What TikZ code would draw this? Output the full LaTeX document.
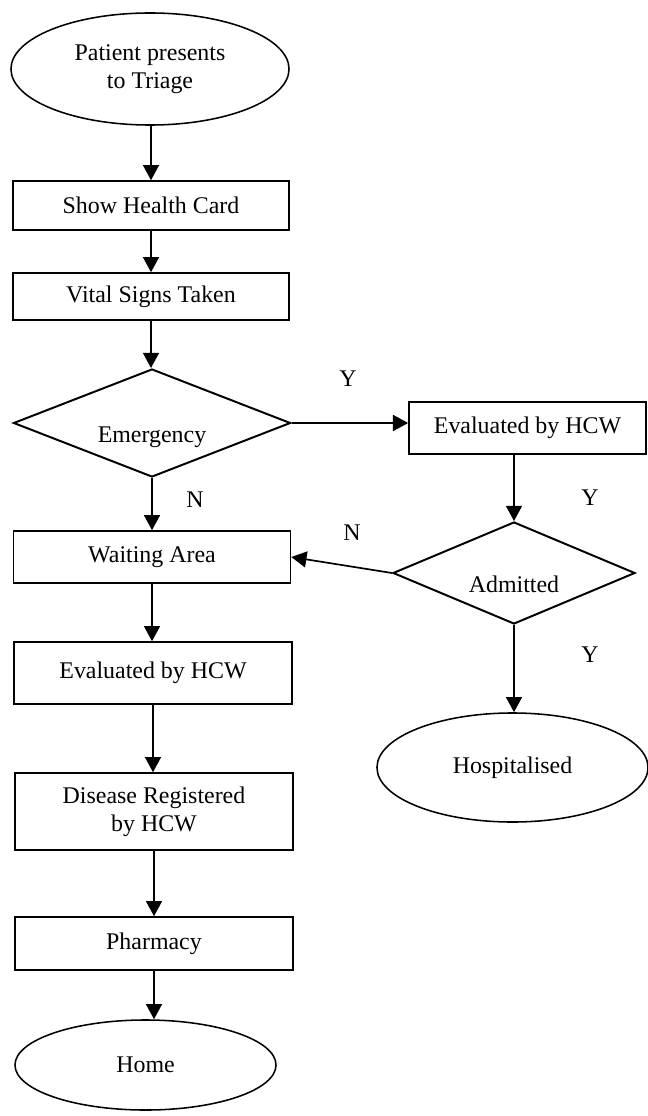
\documentclass[tikz,border=0pt]{standalone}
\usepackage{fontspec}
\setmainfont{Liberation Serif}
\usetikzlibrary{shapes.geometric,arrows.meta}

\begin{document}
\begin{tikzpicture}
[
x=0.025cm, y=-0.025cm,
every node/.style={font=\fontsize{17}{20}\selectfont},
Terminal/.style={ellipse, draw=black, line width=1.1pt, inner sep=0pt, align=center},
Process/.style={rectangle, draw=black, line width=1.1pt, inner sep=0pt, align=center},
Decision/.style={diamond, draw=black, line width=1.4pt, inner sep=0pt, aspect=2.5, text height=0.95cm, text depth=0pt},
Flow/.style={-{Triangle[length=0.38cm, width=0.4cm]}, line width=1.2pt, draw=black},
Answer/.style={inner sep=0pt},
]

\useasboundingbox (0,0) rectangle (648,1116);

% left column
\node[Terminal, minimum width=6.95cm, minimum height=2.8cm] (start) at (150,69) {Patient presents\\to Triage};
\node[Process, minimum width=6.9cm, minimum height=1.225cm] (card) at (151,205.5) {Show Health Card};
\node[Process, minimum width=6.9cm, minimum height=1.175cm] (vital) at (151,296.5) {Vital Signs Taken};
\node[Decision, minimum width=6.925cm, minimum height=2.7cm] (emg) at (152,423) {Emergency};
\node[Process, minimum width=6.925cm, minimum height=1.3cm] (wait) at (152,557) {Waiting Area};
\node[Process, minimum width=6.95cm, minimum height=1.55cm] (evalL) at (153,673) {Evaluated by HCW};
\node[Process, minimum width=6.95cm, minimum height=1.925cm] (disease) at (154,811.5) {Disease Registered\\by HCW};
\node[Process, minimum width=6.95cm, minimum height=1.325cm] (pharm) at (154,943.5) {Pharmacy};
\node[Terminal, minimum width=6.525cm, minimum height=2.25cm] (home) at (145.5,1065) {Home};

% right column
\node[Process, minimum width=5.925cm, minimum height=1.3cm] (evalR) at (527.5,428) {Evaluated by HCW};
\node[Decision, minimum width=6.05cm, minimum height=2.55cm] (adm) at (514,573) {Admitted};
\node[Terminal, minimum width=6.775cm, minimum height=2.725cm] (hosp) at (512.5,767.5) {Hospitalised};

% answers
\node[Answer] (yEmg) at (348,379) {Y};
\node[Answer] (nEmg) at (195,500) {N};
\node[Answer] (yEval) at (590,498) {Y};
\node[Answer] (nAdm) at (352,533) {N};
\node[Answer] (yAdm) at (590,655) {Y};

\draw[Flow] (start.south -| card.north) -- (card.north);
\draw[Flow] (card.south) -- (vital.north);
\draw[Flow] (vital.south) -- (vital.south |- emg.north);
\draw[Flow] (emg.south) -- (emg.south |- wait.north);
\draw[Flow] (wait.south) -- (wait.south |- evalL.north);
\draw[Flow] (evalL.south) -- (evalL.south |- disease.north);
\draw[Flow] (disease.south) -- (disease.south |- pharm.north);
\draw[Flow] (pharm.south) -- (pharm.south |- home.north);

\draw[Flow] (emg.east) -- (emg.east -| evalR.west);
\draw[Flow] (adm.north |- evalR.south) -- (adm.north);
\draw[Flow] (adm.west) -- (wait.east);
\draw[Flow] (adm.south) -- (adm.south |- hosp.north);

\end{tikzpicture}
\end{document}
